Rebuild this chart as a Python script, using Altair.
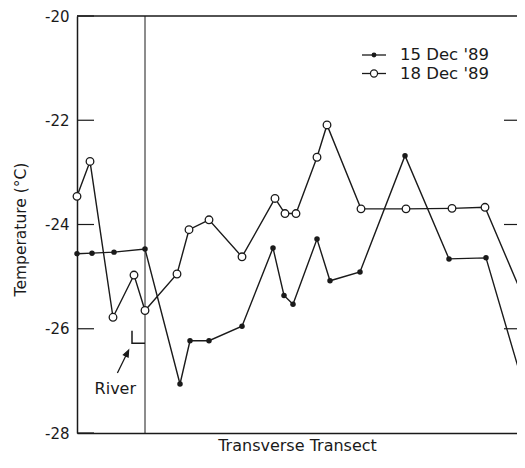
import altair as alt
import pandas as pd

# ---- data ----
x_15 = [0.0, 1.5, 3.7, 6.8, 10.3, 11.3, 13.2, 16.5, 19.6, 20.7, 21.6, 24.0, 25.3, 28.3, 32.8, 37.2, 40.9, 45.3]
t_15 = [-24.56, -24.55, -24.53, -24.47, -27.06, -26.23, -26.23, -25.95, -24.45, -25.36, -25.53,
        -24.28, -25.08, -24.91, -22.68, -24.66, -24.64, -27.52]
x_18 = [0.0, 1.3, 3.6, 5.7, 6.8, 10.0, 11.2, 13.2, 16.5, 19.8, 20.8, 21.9, 24.0, 25.0, 28.4, 32.9, 37.5, 40.8, 45.3]
t_18 = [-23.46, -22.79, -25.78, -24.97, -25.65, -24.95, -24.10, -23.91, -24.62, -23.50, -23.79,
        -23.79, -22.71, -22.09, -23.70, -23.70, -23.69, -23.67, -25.70]
series_names = ["15 Dec '89", "18 Dec '89"]
y_ticks = [-20, -22, -24, -26, -28]
x_domain = [0, 44.0]
y_domain = [-28, -20]
river_x = [6.8]
bracket_x = [5.5, 5.5, 6.8]
bracket_t = [-26.04, -26.28, -26.28]
arrow_mid_x = [4.6]
arrow_mid_t = [-26.63]
river_label = ["River"]
river_label_x = [3.83]
river_label_t = [-27.15]

INK = "#1a1a1a"
W, H = 440, 417
ARROW_SHAPE = "M0,-1 L-0.2,-0.5 L0.2,-0.5 Z M0,-0.6 L0,1"

df15 = pd.DataFrame({"x": x_15, "t": t_15})
df18 = pd.DataFrame({"x": x_18, "t": t_18})

xs = alt.Scale(domain=x_domain, nice=False, zero=False)
ys = alt.Scale(domain=y_domain, nice=False, zero=False)
x_axis = alt.Axis(ticks=False, tickSize=0, labels=False, grid=False, title="Transverse Transect",
                  titleFontSize=16, titleFontWeight="normal", titleColor=INK, titlePadding=4,
                  domainColor=INK, domainWidth=1.5)
y_axis = alt.Axis(values=y_ticks, ticks=False, tickSize=0, labelPadding=8, labelFontSize=15,
                  labelColor=INK, labelExpr="toString(datum.value)", grid=False,
                  title="Temperature (°C)", titleFontSize=15.5, titleFontWeight="normal",
                  titleColor=INK, titleX=-57, titleY=213, titleAngle=-90, titleBaseline="middle",
                  titleAlign="center", domainColor=INK, domainWidth=1.5)
X = alt.X("x:Q", scale=xs, axis=x_axis)
Y = alt.Y("t:Q", scale=ys, axis=y_axis)

inside = "datum.x <= %s" % x_domain[1]

line15 = alt.Chart(df15).mark_line(color=INK, strokeWidth=1.4, clip=True).encode(x=X, y=Y)
line18 = alt.Chart(df18).mark_line(color=INK, strokeWidth=1.4, clip=True).encode(x=X, y=Y)
pts15 = alt.Chart(df15).transform_filter(inside).mark_circle(
    color=INK, size=30, opacity=1).encode(x=X, y=Y)
pts18 = alt.Chart(df18).transform_filter(inside).mark_circle(
    fill="white", stroke=INK, strokeWidth=1.3, size=58, opacity=1).encode(x=X, y=Y)

top_rule = alt.Chart(pd.DataFrame({"t": [y_domain[1]]})).mark_rule(
    color=INK, strokeWidth=1.5).encode(y=Y)
left_ticks = alt.Chart(pd.DataFrame({"t": y_ticks})).mark_rule(
    color=INK, strokeWidth=1.2).encode(y=Y, x=alt.value(0), x2=alt.value(17))
right_ticks = alt.Chart(pd.DataFrame({"t": y_ticks[1:-1]})).mark_rule(
    color=INK, strokeWidth=1.2).encode(y=Y, x=alt.value(W - 13), x2=alt.value(W))
river = alt.Chart(pd.DataFrame({"x": river_x})).mark_rule(
    color=INK, strokeWidth=1).encode(x=X)
bracket = alt.Chart(pd.DataFrame({"x": bracket_x, "t": bracket_t, "o": [0, 1, 2]})).mark_line(
    color=INK, strokeWidth=1.5).encode(x=X, y=Y, order="o:Q")
arrow = alt.Chart(pd.DataFrame({"x": arrow_mid_x, "t": arrow_mid_t})).mark_point(
    shape=ARROW_SHAPE, filled=True, fill=INK, stroke=INK, strokeWidth=1.3, size=650,
    angle=26, opacity=1).encode(x=X, y=Y)
river_text = alt.Chart(pd.DataFrame({"x": river_label_x, "t": river_label_t, "lab": river_label})).mark_text(
    fontSize=16, color=INK, align="center", baseline="middle").encode(x=X, y=Y, text="lab:N")

# manual legend (layout only)
leg_layers = []
for i, name in enumerate(series_names):
    yv = 39 + i * 18.5
    one = alt.Chart(pd.DataFrame({"lab": [name]}))
    leg_layers.append(one.mark_rule(color=INK, strokeWidth=1.3).encode(
        x=alt.value(285), x2=alt.value(309), y=alt.value(yv)))
    if i == 0:
        leg_layers.append(one.mark_circle(color=INK, size=24, opacity=1).encode(
            x=alt.value(297), y=alt.value(yv)))
    else:
        leg_layers.append(one.mark_circle(fill="white", stroke=INK, strokeWidth=1.2, size=50,
                                          opacity=1).encode(x=alt.value(297), y=alt.value(yv)))
    leg_layers.append(one.mark_text(fontSize=16.5, color=INK, align="left", baseline="middle").encode(
        x=alt.value(323), y=alt.value(yv), text="lab:N"))

chart = alt.layer(
    top_rule, left_ticks, right_ticks, river, bracket, arrow, river_text,
    line18, line15, pts15, pts18, *leg_layers
).properties(
    width=W, height=H,
    autosize=alt.AutoSizeParams(type="none"),
    padding={"left": 69, "top": 8, "right": 0, "bottom": 21},
).configure(font="DejaVu Sans").configure_view(stroke=None)

chart.save("out.html", embed_options={"renderer": "svg", "actions": False})
